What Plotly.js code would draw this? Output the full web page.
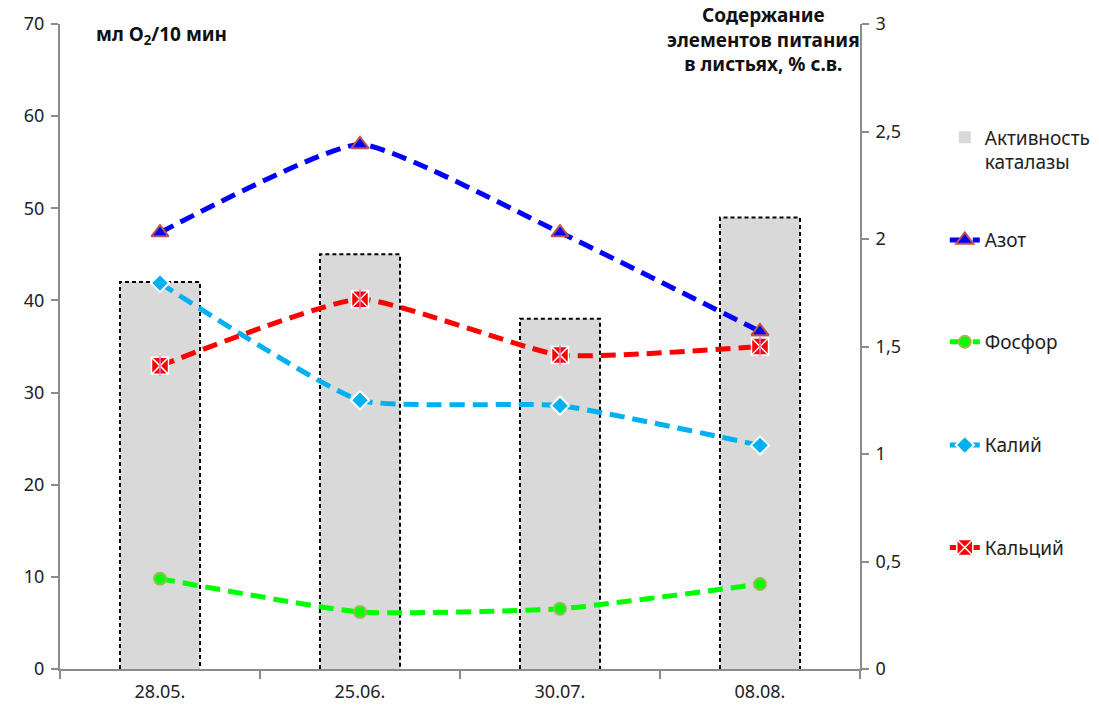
<!DOCTYPE html>
<html>
<head>
<meta charset="utf-8">
<script src="https://cdn.plot.ly/plotly-3.0.1.min.js"></script>
<style>
  html, body { margin: 0; padding: 0; background: #fff; }
  #chart { width: 1099px; height: 708px; }
</style>
</head>
<body>
<div id="chart"></div>
<script>
// Sampling dates
const dates = ['28.05.', '25.06.', '30.07.', '08.08.'];

// Catalase activity, ml O2 / 10 min (left axis)
const catalase = [42, 45, 38, 49];

// Nutrient content in leaves, % dry matter (right axis)
const nitrogen   = [2.03, 2.44, 2.03, 1.57];
const phosphorus = [0.42, 0.265, 0.28, 0.395];
const potassium  = [1.795, 1.25, 1.225, 1.04];
const calcium    = [1.41, 1.72, 1.46, 1.50];

const FONT = 'Noto Sans, sans-serif';
const xPos = dates.map((_, i) => i);
const BAR_W = 0.4;

// Dashed outline around every bar, built from the bar values
const outX = [], outY = [];
catalase.forEach((v, i) => {
  const a = i - BAR_W / 2, b = i + BAR_W / 2;
  outX.push(a, a, b, b, null);
  outY.push(0, v, v, 0, null);
});

const dashPat = '15px,8px';

function lineTrace(name, y, color, marker, legendId) {
  return {
    type: 'scatter', mode: 'lines+markers', name: name,
    x: xPos, y: y, yaxis: 'y2', legend: legendId,
    line: { color: color, width: 5, dash: dashPat, shape: 'spline', smoothing: 0.45 },
    marker: marker, cliponaxis: false
  };
}

const traces = [
  {
    type: 'bar', name: 'Активность<br>каталазы', x: xPos, y: catalase,
    width: BAR_W, marker: { color: '#d9d9d9', line: { width: 0 } },
    legend: 'legend'
  },
  {
    type: 'scatter', mode: 'lines', x: outX, y: outY, showlegend: false,
    line: { color: '#000', width: 2, dash: '4px,3px' }, hoverinfo: 'skip'
  },
  lineTrace('Азот', nitrogen, '#0000ff',
    { symbol: 'triangle-up', size: 15, color: '#0000ff', line: { color: '#c0504d', width: 2 } }, 'legend2'),
  lineTrace('Фосфор', phosphorus, '#00ff00',
    { symbol: 'circle', size: 12, color: '#00ff00', line: { color: '#9bbb59', width: 2 } }, 'legend3'),
  lineTrace('Калий', potassium, '#00b0f0',
    { symbol: 'diamond', size: 14, color: '#00b0f0', line: { color: '#ffffff', width: 2 } }, 'legend4'),
  lineTrace('Кальций', calcium, '#ff0000',
    { symbol: 'square-x', size: 17, color: '#ff0000', line: { color: '#ffffff', width: 1.5 } }, 'legend5'),
  {
    type: 'scatter', mode: 'markers', x: xPos, y: calcium, yaxis: 'y2', showlegend: false,
    marker: { symbol: 'line-ns-open', size: 14, line: { color: '#ffffff', width: 1.5 } },
    hoverinfo: 'skip', cliponaxis: false
  }
];

const axisLine = '#8c8c8c';
const tickFont = { family: FONT, size: 18, color: '#222' };

function legendAt(y) {
  return {
    x: 1.106, xanchor: 'left', y: y, yanchor: 'middle', valign: 'top',
    bgcolor: 'rgba(0,0,0,0)', font: { family: FONT, size: 19, color: '#222' }
  };
}

const layout = {
  width: 1099, height: 708,
  margin: { l: 60, r: 239, t: 24, b: 39, autoexpand: false },
  paper_bgcolor: '#fff', plot_bgcolor: '#fff',
  separators: ', ',
  showlegend: true,
  xaxis: {
    type: 'linear', range: [-0.5, 3.5], tickvals: xPos, ticktext: dates,
    ticks: '', showgrid: false, zeroline: false,
    showline: true, linecolor: axisLine, linewidth: 2,
    tickfont: tickFont, ticklabelstandoff: 5,
    minor: { tickmode: 'linear', tick0: -0.5, dtick: 1, ticks: 'outside',
             ticklen: 8, tickwidth: 2, tickcolor: axisLine, showgrid: false }
  },
  yaxis: {
    range: [0, 70], dtick: 10, ticks: 'outside', ticklen: 7, tickwidth: 2,
    tickcolor: axisLine, showline: true, linecolor: axisLine, linewidth: 2,
    showgrid: false, zeroline: false, tickfont: tickFont, ticklabelstandoff: 3
  },
  yaxis2: {
    overlaying: 'y', side: 'right', range: [0, 3], dtick: 0.5, tickformat: '.1~f',
    ticks: 'outside', ticklen: 7, tickwidth: 2, tickcolor: axisLine,
    showline: true, linecolor: axisLine, linewidth: 2,
    showgrid: false, zeroline: false, tickfont: tickFont, ticklabelstandoff: 3
  },
  legend: legendAt(0.805),
  legend2: legendAt(0.665),
  legend3: legendAt(0.507),
  legend4: legendAt(0.347),
  legend5: legendAt(0.188),
  annotations: [
    {
      text: '<b>мл O<sub>2</sub>/10 мин</b>', xref: 'paper', yref: 'paper',
      x: 0.043, y: 0.983, xanchor: 'left', yanchor: 'middle', showarrow: false,
      font: { family: FONT, size: 19, color: '#111' }
    },
    {
      text: '<b>Содержание<br>элементов питания<br>в листьях, % с.в.</b>',
      xref: 'paper', yref: 'paper', x: 0.879, y: 1.037, xanchor: 'center', yanchor: 'top',
      align: 'center', showarrow: false,
      font: { family: FONT, size: 19, color: '#111' }
    }
  ]
};

Plotly.newPlot('chart', traces, layout, { displayModeBar: false, staticPlot: true });
</script>
</body>
</html>
